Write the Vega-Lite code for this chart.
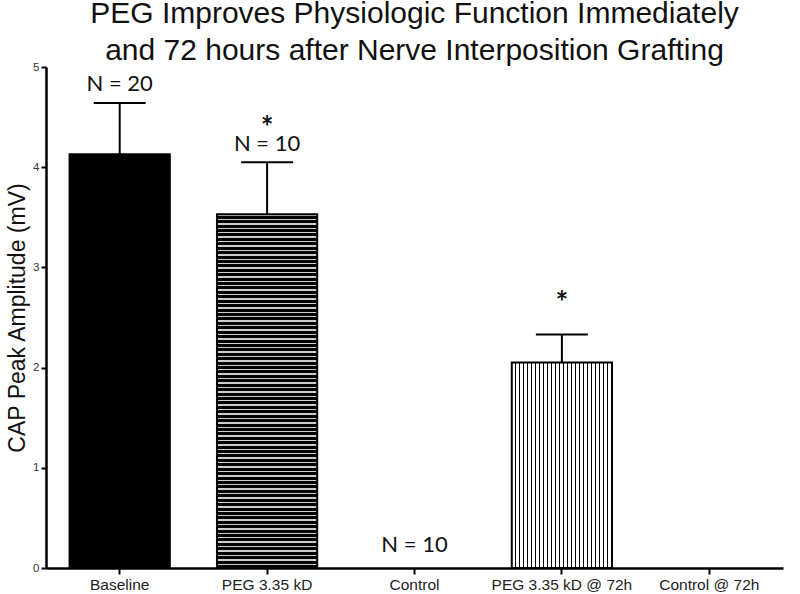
{
  "$schema": "https://vega.github.io/schema/vega-lite/v6.json",
  "autosize": "none",
  "width": 737,
  "height": 501,
  "padding": {"left": 46, "top": 67, "right": 17, "bottom": 26},
  "background": "white",
  "title": {
    "text": ["PEG Improves Physiologic Function Immediately", "and 72 hours after Nerve Interposition Grafting"],
    "font": "Liberation Sans",
    "fontSize": 30,
    "fontWeight": "normal",
    "color": "#111",
    "anchor": "middle",
    "lineHeight": 37,
    "frame": "group",
    "offset": -5
  },
  "datasets": {
    "bars": [
      {"group": "Baseline", "mean": 4.13, "upper": 4.64},
      {"group": "PEG 3.35 kD", "mean": 3.53, "upper": 4.05},
      {"group": "Control", "mean": 0, "upper": 0},
      {"group": "PEG 3.35 kD @ 72h", "mean": 2.05, "upper": 2.33},
      {"group": "Control @ 72h", "mean": 0, "upper": 0}
    ],
    "notes": [
      {"group": "Baseline", "y": 4.76, "label": "N = 20", "kind": "n"},
      {"group": "PEG 3.35 kD", "y": 4.16, "label": "N = 10", "kind": "n"},
      {"group": "PEG 3.35 kD", "y": 4.29, "label": "*", "kind": "star"},
      {"group": "Control", "y": 0.16, "label": "N = 10", "kind": "n"},
      {"group": "PEG 3.35 kD @ 72h", "y": 2.54, "label": "*", "kind": "star"}
    ]
  },
  "data": {"name": "bars"},
  "encoding": {
    "x": {
      "field": "group",
      "type": "nominal",
      "scale": {"domain": ["Baseline", "PEG 3.35 kD", "Control", "PEG 3.35 kD @ 72h", "Control @ 72h"], "paddingInner": 0.32, "paddingOuter": 0.16},
      "axis": {
        "title": null,
        "labelAngle": 0,
        "labelOverlap": false,
        "labelBound": false,
        "labelFont": "Liberation Sans",
        "labelFontSize": 15.5,
        "labelColor": "#222",
        "labelPadding": 3,
        "tickColor": "#000",
        "tickWidth": 2,
        "tickSize": 6,
        "domainColor": "#000",
        "domainWidth": 2.5
      }
    }
  },
  "layer": [
    {
      "transform": [{"filter": "datum.group === 'Baseline'"}],
      "mark": {"type": "bar", "color": "#000", "stroke": "#000", "strokeWidth": 2},
      "encoding": {
        "y": {
          "field": "mean",
          "type": "quantitative",
          "scale": {"domain": [0, 5], "nice": false},
          "axis": {
            "title": "CAP Peak Amplitude (mV)",
            "values": [0, 1, 2, 3, 4, 5],
            "format": "d",
            "grid": false,
            "labelFont": "Liberation Sans",
            "labelFontSize": 11.5,
            "labelColor": "#333",
            "labelPadding": 2,
            "tickColor": "#000",
            "tickWidth": 2,
            "tickSize": 5,
            "domainColor": "#000",
            "domainWidth": 2.5,
            "titleFont": "Liberation Sans",
            "titleFontSize": 23,
            "titleFontWeight": "normal",
            "titleColor": "#111",
            "titlePadding": 3
          }
        }
      }
    },
    {
      "transform": [{"filter": "datum.group === 'PEG 3.35 kD'"}],
      "mark": {
        "type": "bar",
        "stroke": "#000",
        "strokeWidth": 2,
        "fill": {
          "gradient": "linear", "x1": 0, "y1": 0, "x2": 0, "y2": 1,
          "stops": [
            {"offset": 0, "color": "#ccc"}, {"offset": 0.004, "color": "#ccc"}, {"offset": 0.004, "color": "#000"}, {"offset": 0.0125, "color": "#000"},
            {"offset": 0.0125, "color": "#ccc"}, {"offset": 0.0165, "color": "#ccc"}, {"offset": 0.0165, "color": "#000"}, {"offset": 0.025, "color": "#000"},
            {"offset": 0.025, "color": "#ccc"}, {"offset": 0.029, "color": "#ccc"}, {"offset": 0.029, "color": "#000"}, {"offset": 0.0375, "color": "#000"},
            {"offset": 0.0375, "color": "#ccc"}, {"offset": 0.0415, "color": "#ccc"}, {"offset": 0.0415, "color": "#000"}, {"offset": 0.05, "color": "#000"},
            {"offset": 0.05, "color": "#ccc"}, {"offset": 0.054, "color": "#ccc"}, {"offset": 0.054, "color": "#000"}, {"offset": 0.0625, "color": "#000"},
            {"offset": 0.0625, "color": "#ccc"}, {"offset": 0.0665, "color": "#ccc"}, {"offset": 0.0665, "color": "#000"}, {"offset": 0.075, "color": "#000"},
            {"offset": 0.075, "color": "#ccc"}, {"offset": 0.079, "color": "#ccc"}, {"offset": 0.079, "color": "#000"}, {"offset": 0.0875, "color": "#000"},
            {"offset": 0.0875, "color": "#ccc"}, {"offset": 0.0915, "color": "#ccc"}, {"offset": 0.0915, "color": "#000"}, {"offset": 0.1, "color": "#000"},
            {"offset": 0.1, "color": "#ccc"}, {"offset": 0.104, "color": "#ccc"}, {"offset": 0.104, "color": "#000"}, {"offset": 0.1125, "color": "#000"},
            {"offset": 0.1125, "color": "#ccc"}, {"offset": 0.1165, "color": "#ccc"}, {"offset": 0.1165, "color": "#000"}, {"offset": 0.125, "color": "#000"},
            {"offset": 0.125, "color": "#ccc"}, {"offset": 0.129, "color": "#ccc"}, {"offset": 0.129, "color": "#000"}, {"offset": 0.1375, "color": "#000"},
            {"offset": 0.1375, "color": "#ccc"}, {"offset": 0.1415, "color": "#ccc"}, {"offset": 0.1415, "color": "#000"}, {"offset": 0.15, "color": "#000"},
            {"offset": 0.15, "color": "#ccc"}, {"offset": 0.154, "color": "#ccc"}, {"offset": 0.154, "color": "#000"}, {"offset": 0.1625, "color": "#000"},
            {"offset": 0.1625, "color": "#ccc"}, {"offset": 0.1665, "color": "#ccc"}, {"offset": 0.1665, "color": "#000"}, {"offset": 0.175, "color": "#000"},
            {"offset": 0.175, "color": "#ccc"}, {"offset": 0.179, "color": "#ccc"}, {"offset": 0.179, "color": "#000"}, {"offset": 0.1875, "color": "#000"},
            {"offset": 0.1875, "color": "#ccc"}, {"offset": 0.1915, "color": "#ccc"}, {"offset": 0.1915, "color": "#000"}, {"offset": 0.2, "color": "#000"},
            {"offset": 0.2, "color": "#ccc"}, {"offset": 0.204, "color": "#ccc"}, {"offset": 0.204, "color": "#000"}, {"offset": 0.2125, "color": "#000"},
            {"offset": 0.2125, "color": "#ccc"}, {"offset": 0.2165, "color": "#ccc"}, {"offset": 0.2165, "color": "#000"}, {"offset": 0.225, "color": "#000"},
            {"offset": 0.225, "color": "#ccc"}, {"offset": 0.229, "color": "#ccc"}, {"offset": 0.229, "color": "#000"}, {"offset": 0.2375, "color": "#000"},
            {"offset": 0.2375, "color": "#ccc"}, {"offset": 0.2415, "color": "#ccc"}, {"offset": 0.2415, "color": "#000"}, {"offset": 0.25, "color": "#000"},
            {"offset": 0.25, "color": "#ccc"}, {"offset": 0.254, "color": "#ccc"}, {"offset": 0.254, "color": "#000"}, {"offset": 0.2625, "color": "#000"},
            {"offset": 0.2625, "color": "#ccc"}, {"offset": 0.2665, "color": "#ccc"}, {"offset": 0.2665, "color": "#000"}, {"offset": 0.275, "color": "#000"},
            {"offset": 0.275, "color": "#ccc"}, {"offset": 0.279, "color": "#ccc"}, {"offset": 0.279, "color": "#000"}, {"offset": 0.2875, "color": "#000"},
            {"offset": 0.2875, "color": "#ccc"}, {"offset": 0.2915, "color": "#ccc"}, {"offset": 0.2915, "color": "#000"}, {"offset": 0.3, "color": "#000"},
            {"offset": 0.3, "color": "#ccc"}, {"offset": 0.304, "color": "#ccc"}, {"offset": 0.304, "color": "#000"}, {"offset": 0.3125, "color": "#000"},
            {"offset": 0.3125, "color": "#ccc"}, {"offset": 0.3165, "color": "#ccc"}, {"offset": 0.3165, "color": "#000"}, {"offset": 0.325, "color": "#000"},
            {"offset": 0.325, "color": "#ccc"}, {"offset": 0.329, "color": "#ccc"}, {"offset": 0.329, "color": "#000"}, {"offset": 0.3375, "color": "#000"},
            {"offset": 0.3375, "color": "#ccc"}, {"offset": 0.3415, "color": "#ccc"}, {"offset": 0.3415, "color": "#000"}, {"offset": 0.35, "color": "#000"},
            {"offset": 0.35, "color": "#ccc"}, {"offset": 0.354, "color": "#ccc"}, {"offset": 0.354, "color": "#000"}, {"offset": 0.3625, "color": "#000"},
            {"offset": 0.3625, "color": "#ccc"}, {"offset": 0.3665, "color": "#ccc"}, {"offset": 0.3665, "color": "#000"}, {"offset": 0.375, "color": "#000"},
            {"offset": 0.375, "color": "#ccc"}, {"offset": 0.379, "color": "#ccc"}, {"offset": 0.379, "color": "#000"}, {"offset": 0.3875, "color": "#000"},
            {"offset": 0.3875, "color": "#ccc"}, {"offset": 0.3915, "color": "#ccc"}, {"offset": 0.3915, "color": "#000"}, {"offset": 0.4, "color": "#000"},
            {"offset": 0.4, "color": "#ccc"}, {"offset": 0.404, "color": "#ccc"}, {"offset": 0.404, "color": "#000"}, {"offset": 0.4125, "color": "#000"},
            {"offset": 0.4125, "color": "#ccc"}, {"offset": 0.4165, "color": "#ccc"}, {"offset": 0.4165, "color": "#000"}, {"offset": 0.425, "color": "#000"},
            {"offset": 0.425, "color": "#ccc"}, {"offset": 0.429, "color": "#ccc"}, {"offset": 0.429, "color": "#000"}, {"offset": 0.4375, "color": "#000"},
            {"offset": 0.4375, "color": "#ccc"}, {"offset": 0.4415, "color": "#ccc"}, {"offset": 0.4415, "color": "#000"}, {"offset": 0.45, "color": "#000"},
            {"offset": 0.45, "color": "#ccc"}, {"offset": 0.454, "color": "#ccc"}, {"offset": 0.454, "color": "#000"}, {"offset": 0.4625, "color": "#000"},
            {"offset": 0.4625, "color": "#ccc"}, {"offset": 0.4665, "color": "#ccc"}, {"offset": 0.4665, "color": "#000"}, {"offset": 0.475, "color": "#000"},
            {"offset": 0.475, "color": "#ccc"}, {"offset": 0.479, "color": "#ccc"}, {"offset": 0.479, "color": "#000"}, {"offset": 0.4875, "color": "#000"},
            {"offset": 0.4875, "color": "#ccc"}, {"offset": 0.4915, "color": "#ccc"}, {"offset": 0.4915, "color": "#000"}, {"offset": 0.5, "color": "#000"},
            {"offset": 0.5, "color": "#ccc"}, {"offset": 0.504, "color": "#ccc"}, {"offset": 0.504, "color": "#000"}, {"offset": 0.5125, "color": "#000"},
            {"offset": 0.5125, "color": "#ccc"}, {"offset": 0.5165, "color": "#ccc"}, {"offset": 0.5165, "color": "#000"}, {"offset": 0.525, "color": "#000"},
            {"offset": 0.525, "color": "#ccc"}, {"offset": 0.529, "color": "#ccc"}, {"offset": 0.529, "color": "#000"}, {"offset": 0.5375, "color": "#000"},
            {"offset": 0.5375, "color": "#ccc"}, {"offset": 0.5415, "color": "#ccc"}, {"offset": 0.5415, "color": "#000"}, {"offset": 0.55, "color": "#000"},
            {"offset": 0.55, "color": "#ccc"}, {"offset": 0.554, "color": "#ccc"}, {"offset": 0.554, "color": "#000"}, {"offset": 0.5625, "color": "#000"},
            {"offset": 0.5625, "color": "#ccc"}, {"offset": 0.5665, "color": "#ccc"}, {"offset": 0.5665, "color": "#000"}, {"offset": 0.575, "color": "#000"},
            {"offset": 0.575, "color": "#ccc"}, {"offset": 0.579, "color": "#ccc"}, {"offset": 0.579, "color": "#000"}, {"offset": 0.5875, "color": "#000"},
            {"offset": 0.5875, "color": "#ccc"}, {"offset": 0.5915, "color": "#ccc"}, {"offset": 0.5915, "color": "#000"}, {"offset": 0.6, "color": "#000"},
            {"offset": 0.6, "color": "#ccc"}, {"offset": 0.604, "color": "#ccc"}, {"offset": 0.604, "color": "#000"}, {"offset": 0.6125, "color": "#000"},
            {"offset": 0.6125, "color": "#ccc"}, {"offset": 0.6165, "color": "#ccc"}, {"offset": 0.6165, "color": "#000"}, {"offset": 0.625, "color": "#000"},
            {"offset": 0.625, "color": "#ccc"}, {"offset": 0.629, "color": "#ccc"}, {"offset": 0.629, "color": "#000"}, {"offset": 0.6375, "color": "#000"},
            {"offset": 0.6375, "color": "#ccc"}, {"offset": 0.6415, "color": "#ccc"}, {"offset": 0.6415, "color": "#000"}, {"offset": 0.65, "color": "#000"},
            {"offset": 0.65, "color": "#ccc"}, {"offset": 0.654, "color": "#ccc"}, {"offset": 0.654, "color": "#000"}, {"offset": 0.6625, "color": "#000"},
            {"offset": 0.6625, "color": "#ccc"}, {"offset": 0.6665, "color": "#ccc"}, {"offset": 0.6665, "color": "#000"}, {"offset": 0.675, "color": "#000"},
            {"offset": 0.675, "color": "#ccc"}, {"offset": 0.679, "color": "#ccc"}, {"offset": 0.679, "color": "#000"}, {"offset": 0.6875, "color": "#000"},
            {"offset": 0.6875, "color": "#ccc"}, {"offset": 0.6915, "color": "#ccc"}, {"offset": 0.6915, "color": "#000"}, {"offset": 0.7, "color": "#000"},
            {"offset": 0.7, "color": "#ccc"}, {"offset": 0.704, "color": "#ccc"}, {"offset": 0.704, "color": "#000"}, {"offset": 0.7125, "color": "#000"},
            {"offset": 0.7125, "color": "#ccc"}, {"offset": 0.7165, "color": "#ccc"}, {"offset": 0.7165, "color": "#000"}, {"offset": 0.725, "color": "#000"},
            {"offset": 0.725, "color": "#ccc"}, {"offset": 0.729, "color": "#ccc"}, {"offset": 0.729, "color": "#000"}, {"offset": 0.7375, "color": "#000"},
            {"offset": 0.7375, "color": "#ccc"}, {"offset": 0.7415, "color": "#ccc"}, {"offset": 0.7415, "color": "#000"}, {"offset": 0.75, "color": "#000"},
            {"offset": 0.75, "color": "#ccc"}, {"offset": 0.754, "color": "#ccc"}, {"offset": 0.754, "color": "#000"}, {"offset": 0.7625, "color": "#000"},
            {"offset": 0.7625, "color": "#ccc"}, {"offset": 0.7665, "color": "#ccc"}, {"offset": 0.7665, "color": "#000"}, {"offset": 0.775, "color": "#000"},
            {"offset": 0.775, "color": "#ccc"}, {"offset": 0.779, "color": "#ccc"}, {"offset": 0.779, "color": "#000"}, {"offset": 0.7875, "color": "#000"},
            {"offset": 0.7875, "color": "#ccc"}, {"offset": 0.7915, "color": "#ccc"}, {"offset": 0.7915, "color": "#000"}, {"offset": 0.8, "color": "#000"},
            {"offset": 0.8, "color": "#ccc"}, {"offset": 0.804, "color": "#ccc"}, {"offset": 0.804, "color": "#000"}, {"offset": 0.8125, "color": "#000"},
            {"offset": 0.8125, "color": "#ccc"}, {"offset": 0.8165, "color": "#ccc"}, {"offset": 0.8165, "color": "#000"}, {"offset": 0.825, "color": "#000"},
            {"offset": 0.825, "color": "#ccc"}, {"offset": 0.829, "color": "#ccc"}, {"offset": 0.829, "color": "#000"}, {"offset": 0.8375, "color": "#000"},
            {"offset": 0.8375, "color": "#ccc"}, {"offset": 0.8415, "color": "#ccc"}, {"offset": 0.8415, "color": "#000"}, {"offset": 0.85, "color": "#000"},
            {"offset": 0.85, "color": "#ccc"}, {"offset": 0.854, "color": "#ccc"}, {"offset": 0.854, "color": "#000"}, {"offset": 0.8625, "color": "#000"},
            {"offset": 0.8625, "color": "#ccc"}, {"offset": 0.8665, "color": "#ccc"}, {"offset": 0.8665, "color": "#000"}, {"offset": 0.875, "color": "#000"},
            {"offset": 0.875, "color": "#ccc"}, {"offset": 0.879, "color": "#ccc"}, {"offset": 0.879, "color": "#000"}, {"offset": 0.8875, "color": "#000"},
            {"offset": 0.8875, "color": "#ccc"}, {"offset": 0.8915, "color": "#ccc"}, {"offset": 0.8915, "color": "#000"}, {"offset": 0.9, "color": "#000"},
            {"offset": 0.9, "color": "#ccc"}, {"offset": 0.904, "color": "#ccc"}, {"offset": 0.904, "color": "#000"}, {"offset": 0.9125, "color": "#000"},
            {"offset": 0.9125, "color": "#ccc"}, {"offset": 0.9165, "color": "#ccc"}, {"offset": 0.9165, "color": "#000"}, {"offset": 0.925, "color": "#000"},
            {"offset": 0.925, "color": "#ccc"}, {"offset": 0.929, "color": "#ccc"}, {"offset": 0.929, "color": "#000"}, {"offset": 0.9375, "color": "#000"},
            {"offset": 0.9375, "color": "#ccc"}, {"offset": 0.9415, "color": "#ccc"}, {"offset": 0.9415, "color": "#000"}, {"offset": 0.95, "color": "#000"},
            {"offset": 0.95, "color": "#ccc"}, {"offset": 0.954, "color": "#ccc"}, {"offset": 0.954, "color": "#000"}, {"offset": 0.9625, "color": "#000"},
            {"offset": 0.9625, "color": "#ccc"}, {"offset": 0.9665, "color": "#ccc"}, {"offset": 0.9665, "color": "#000"}, {"offset": 0.975, "color": "#000"},
            {"offset": 0.975, "color": "#ccc"}, {"offset": 0.979, "color": "#ccc"}, {"offset": 0.979, "color": "#000"}, {"offset": 0.9875, "color": "#000"},
            {"offset": 0.9875, "color": "#ccc"}, {"offset": 0.9915, "color": "#ccc"}, {"offset": 0.9915, "color": "#000"}, {"offset": 1, "color": "#000"}
          ]
        }
      },
      "encoding": {"y": {"field": "mean", "type": "quantitative"}}
    },
    {
      "transform": [{"filter": "datum.group === 'PEG 3.35 kD @ 72h'"}],
      "mark": {
        "type": "bar",
        "stroke": "#000",
        "strokeWidth": 2,
        "fill": {
          "gradient": "linear", "x1": 0, "y1": 0, "x2": 1, "y2": 0,
          "stops": [
            {"offset": 0, "color": "#fff"}, {"offset": 0.028, "color": "#fff"}, {"offset": 0.028, "color": "#000"}, {"offset": 0.04, "color": "#000"},
            {"offset": 0.04, "color": "#fff"}, {"offset": 0.068, "color": "#fff"}, {"offset": 0.068, "color": "#000"}, {"offset": 0.08, "color": "#000"},
            {"offset": 0.08, "color": "#fff"}, {"offset": 0.108, "color": "#fff"}, {"offset": 0.108, "color": "#000"}, {"offset": 0.12, "color": "#000"},
            {"offset": 0.12, "color": "#fff"}, {"offset": 0.148, "color": "#fff"}, {"offset": 0.148, "color": "#000"}, {"offset": 0.16, "color": "#000"},
            {"offset": 0.16, "color": "#fff"}, {"offset": 0.188, "color": "#fff"}, {"offset": 0.188, "color": "#000"}, {"offset": 0.2, "color": "#000"},
            {"offset": 0.2, "color": "#fff"}, {"offset": 0.228, "color": "#fff"}, {"offset": 0.228, "color": "#000"}, {"offset": 0.24, "color": "#000"},
            {"offset": 0.24, "color": "#fff"}, {"offset": 0.268, "color": "#fff"}, {"offset": 0.268, "color": "#000"}, {"offset": 0.28, "color": "#000"},
            {"offset": 0.28, "color": "#fff"}, {"offset": 0.308, "color": "#fff"}, {"offset": 0.308, "color": "#000"}, {"offset": 0.32, "color": "#000"},
            {"offset": 0.32, "color": "#fff"}, {"offset": 0.348, "color": "#fff"}, {"offset": 0.348, "color": "#000"}, {"offset": 0.36, "color": "#000"},
            {"offset": 0.36, "color": "#fff"}, {"offset": 0.388, "color": "#fff"}, {"offset": 0.388, "color": "#000"}, {"offset": 0.4, "color": "#000"},
            {"offset": 0.4, "color": "#fff"}, {"offset": 0.428, "color": "#fff"}, {"offset": 0.428, "color": "#000"}, {"offset": 0.44, "color": "#000"},
            {"offset": 0.44, "color": "#fff"}, {"offset": 0.468, "color": "#fff"}, {"offset": 0.468, "color": "#000"}, {"offset": 0.48, "color": "#000"},
            {"offset": 0.48, "color": "#fff"}, {"offset": 0.508, "color": "#fff"}, {"offset": 0.508, "color": "#000"}, {"offset": 0.52, "color": "#000"},
            {"offset": 0.52, "color": "#fff"}, {"offset": 0.548, "color": "#fff"}, {"offset": 0.548, "color": "#000"}, {"offset": 0.56, "color": "#000"},
            {"offset": 0.56, "color": "#fff"}, {"offset": 0.588, "color": "#fff"}, {"offset": 0.588, "color": "#000"}, {"offset": 0.6, "color": "#000"},
            {"offset": 0.6, "color": "#fff"}, {"offset": 0.628, "color": "#fff"}, {"offset": 0.628, "color": "#000"}, {"offset": 0.64, "color": "#000"},
            {"offset": 0.64, "color": "#fff"}, {"offset": 0.668, "color": "#fff"}, {"offset": 0.668, "color": "#000"}, {"offset": 0.68, "color": "#000"},
            {"offset": 0.68, "color": "#fff"}, {"offset": 0.708, "color": "#fff"}, {"offset": 0.708, "color": "#000"}, {"offset": 0.72, "color": "#000"},
            {"offset": 0.72, "color": "#fff"}, {"offset": 0.748, "color": "#fff"}, {"offset": 0.748, "color": "#000"}, {"offset": 0.76, "color": "#000"},
            {"offset": 0.76, "color": "#fff"}, {"offset": 0.788, "color": "#fff"}, {"offset": 0.788, "color": "#000"}, {"offset": 0.8, "color": "#000"},
            {"offset": 0.8, "color": "#fff"}, {"offset": 0.828, "color": "#fff"}, {"offset": 0.828, "color": "#000"}, {"offset": 0.84, "color": "#000"},
            {"offset": 0.84, "color": "#fff"}, {"offset": 0.868, "color": "#fff"}, {"offset": 0.868, "color": "#000"}, {"offset": 0.88, "color": "#000"},
            {"offset": 0.88, "color": "#fff"}, {"offset": 0.908, "color": "#fff"}, {"offset": 0.908, "color": "#000"}, {"offset": 0.92, "color": "#000"},
            {"offset": 0.92, "color": "#fff"}, {"offset": 0.948, "color": "#fff"}, {"offset": 0.948, "color": "#000"}, {"offset": 0.96, "color": "#000"},
            {"offset": 0.96, "color": "#fff"}, {"offset": 0.988, "color": "#fff"}, {"offset": 0.988, "color": "#000"}, {"offset": 1, "color": "#000"}
          ]
        }
      },
      "encoding": {"y": {"field": "mean", "type": "quantitative"}}
    },
    {
      "transform": [{"filter": "datum.upper > datum.mean"}],
      "mark": {"type": "rule", "color": "#000", "strokeWidth": 2},
      "encoding": {
        "y": {"field": "mean", "type": "quantitative"},
        "y2": {"field": "upper"}
      }
    },
    {
      "transform": [{"filter": "datum.upper > datum.mean"}],
      "mark": {"type": "tick", "color": "#000", "size": 52, "thickness": 2, "opacity": 1},
      "encoding": {
        "y": {"field": "upper", "type": "quantitative"}
      }
    },
    {
      "data": {"name": "notes"},
      "transform": [{"filter": "datum.kind === 'n'"}],
      "mark": {"type": "text", "font": "Lato", "fontSize": 22, "color": "#111", "baseline": "alphabetic", "align": "center"},
      "encoding": {
        "y": {"field": "y", "type": "quantitative"},
        "text": {"field": "label"}
      }
    },
    {
      "data": {"name": "notes"},
      "transform": [{"filter": "datum.kind === 'star'"}],
      "mark": {"type": "text", "font": "Lato", "fontSize": 30, "fontWeight": "bold", "color": "#111", "baseline": "alphabetic", "align": "center"},
      "encoding": {
        "y": {"field": "y", "type": "quantitative"},
        "text": {"field": "label"}
      }
    }
  ],
  "config": {"view": {"stroke": null}}
}
